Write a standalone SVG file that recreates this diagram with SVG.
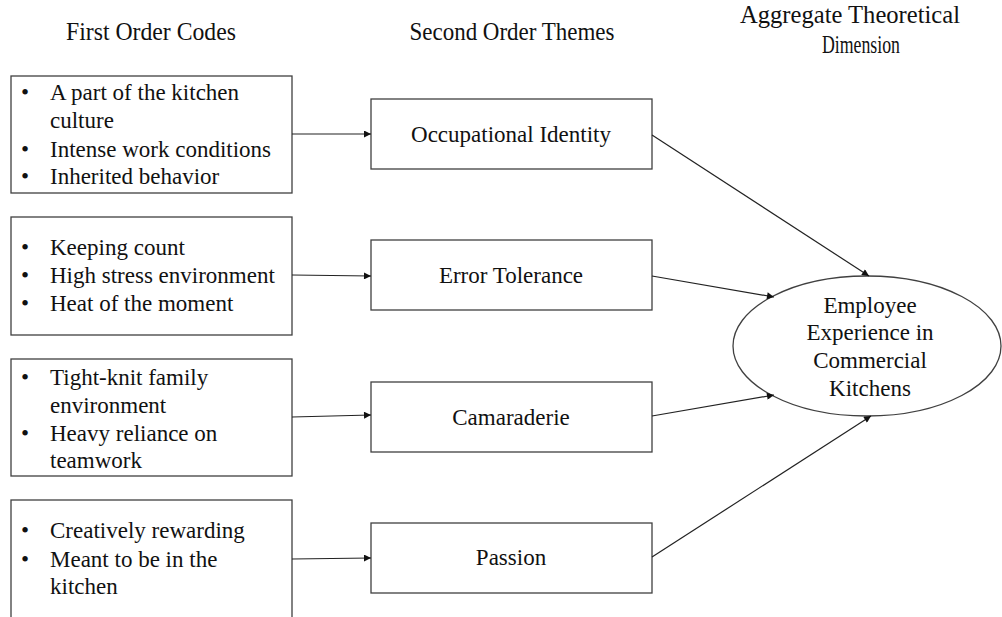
<svg xmlns="http://www.w3.org/2000/svg" width="1002" height="617" viewBox="0 0 1002 617">
<style>
.box{fill:#fff;stroke:#404040;stroke-width:1.3}
.t{font-family:"Liberation Serif","Times New Roman",serif;font-size:23px;fill:#111}
.h{font-family:"Liberation Serif","Times New Roman",serif;font-size:26px;fill:#111}
.c{text-anchor:middle}
.conn{stroke:#222;stroke-width:1.2;fill:none;marker-end:url(#ah)}
</style>
<defs>
<marker id="ah" viewBox="0 0 10 10" refX="10" refY="5" markerWidth="8" markerHeight="7" markerUnits="userSpaceOnUse" orient="auto">
<path d="M0,0 L10,5 L0,10 z" fill="#111"/>
</marker>
</defs>
<rect width="1002" height="617" fill="#fff"/>
<g id="headers">
<text class="h c" x="151" y="40" textLength="170" lengthAdjust="spacingAndGlyphs">First Order Codes</text>
<text class="h c" x="512" y="40" textLength="205" lengthAdjust="spacingAndGlyphs">Second Order Themes</text>
<text class="h c" x="850" y="23" textLength="220" lengthAdjust="spacingAndGlyphs">Aggregate Theoretical</text>
<text class="h c" x="861" y="53" textLength="78" lengthAdjust="spacingAndGlyphs">Dimension</text>
</g>
<g id="codes1">
<rect class="box" x="11" y="76" width="281" height="117"/>
<text class="t" x="21" y="100">•</text><text class="t" x="50" y="100">A part of the kitchen</text>
<text class="t" x="50" y="128">culture</text>
<text class="t" x="21" y="157">•</text><text class="t" x="50" y="157">Intense work conditions</text>
<text class="t" x="21" y="184">•</text><text class="t" x="50" y="184">Inherited behavior</text>
</g>
<g id="codes2">
<rect class="box" x="11" y="217" width="281" height="118"/>
<text class="t" x="21" y="255">•</text><text class="t" x="50" y="255">Keeping count</text>
<text class="t" x="21" y="283">•</text><text class="t" x="50" y="283">High stress environment</text>
<text class="t" x="21" y="311">•</text><text class="t" x="50" y="311">Heat of the moment</text>
</g>
<g id="codes3">
<rect class="box" x="11" y="359" width="281" height="117"/>
<text class="t" x="21" y="385">•</text><text class="t" x="50" y="385">Tight-knit family</text>
<text class="t" x="50" y="413">environment</text>
<text class="t" x="21" y="441">•</text><text class="t" x="50" y="441">Heavy reliance on</text>
<text class="t" x="50" y="468">teamwork</text>
</g>
<g id="codes4">
<rect class="box" x="11" y="500" width="281" height="130"/>
<text class="t" x="21" y="538">•</text><text class="t" x="50" y="538">Creatively rewarding</text>
<text class="t" x="21" y="567">•</text><text class="t" x="50" y="567">Meant to be in the</text>
<text class="t" x="50" y="594">kitchen</text>
</g>
<g id="theme1">
<rect class="box" x="371" y="99" width="281" height="70"/>
<text class="t c" x="511" y="142">Occupational Identity</text>
</g>
<g id="theme2">
<rect class="box" x="371" y="240" width="281" height="70"/>
<text class="t c" x="511" y="283">Error Tolerance</text>
</g>
<g id="theme3">
<rect class="box" x="371" y="382" width="281" height="70"/>
<text class="t c" x="511" y="425">Camaraderie</text>
</g>
<g id="theme4">
<rect class="box" x="371" y="523" width="281" height="70"/>
<text class="t c" x="511" y="565">Passion</text>
</g>
<g id="dimension">
<ellipse class="box" cx="867" cy="346" rx="134" ry="70"/>
<text class="t c" x="870" y="313">Employee</text>
<text class="t c" x="870" y="340">Experience in</text>
<text class="t c" x="870" y="368">Commercial</text>
<text class="t c" x="870" y="396">Kitchens</text>
</g>
<g id="connectors">
<line class="conn" x1="292" y1="134" x2="371" y2="134"/>
<line class="conn" x1="292" y1="275" x2="371" y2="276"/>
<line class="conn" x1="292" y1="417" x2="371" y2="415"/>
<line class="conn" x1="292" y1="559" x2="371" y2="558"/>
<line class="conn" x1="652" y1="135" x2="869" y2="276"/>
<line class="conn" x1="652" y1="276" x2="774" y2="297"/>
<line class="conn" x1="652" y1="416" x2="774" y2="395"/>
<line class="conn" x1="652" y1="557" x2="871" y2="416"/>
</g>
</svg>
